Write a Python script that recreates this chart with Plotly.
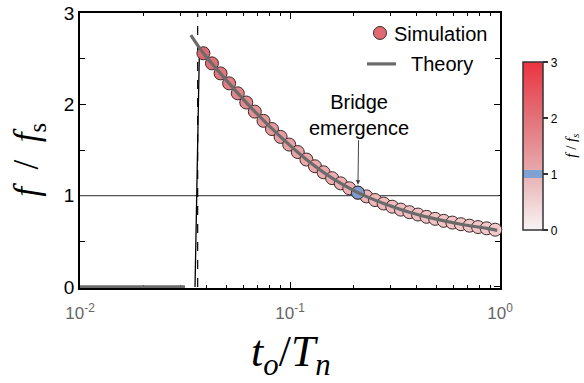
import math
import plotly.graph_objects as go

# ---------------- data ----------------
sim_x = [0.0387, 0.0425, 0.0467, 0.0513, 0.0564, 0.0619, 0.0680, 0.0748, 0.0821, 0.0902,
         0.0991, 0.1089, 0.1197, 0.1315, 0.1445, 0.1587, 0.1744, 0.1916, 0.2105, 0.2313,
         0.2541, 0.2792, 0.3068, 0.3371, 0.3703, 0.4069, 0.4470, 0.4912, 0.5396, 0.5929,
         0.6514, 0.7157, 0.7864, 0.8640, 0.9492]
sim_y = [2.561, 2.450, 2.340, 2.231, 2.122, 2.021, 1.921, 1.820, 1.730, 1.644,
         1.560, 1.478, 1.396, 1.322, 1.256, 1.192, 1.135, 1.081, 1.033, 0.992,
         0.952, 0.914, 0.879, 0.847, 0.819, 0.793, 0.768, 0.746, 0.724, 0.705,
         0.687, 0.671, 0.656, 0.642, 0.627]
bridge_index = 18

theory_x = [0.0337, 0.0387, 0.0513, 0.0680, 0.0902, 0.1197, 0.1587, 0.2105, 0.2792,
            0.3703, 0.4912, 0.6514, 0.8640, 0.9700]
theory_y = [2.76, 2.561, 2.231, 1.921, 1.644, 1.396, 1.192, 1.033, 0.914,
            0.819, 0.746, 0.687, 0.642, 0.620]
theory_zero_x = [0.01, 0.0316]
theory_zero_y = [0, 0]

jump_x = [0.0353, 0.0370]
jump_y = [0, 2.55]

threshold_x = 0.03634
reference_level = 1.0
ref_line_x = [0.01, 0.985]

x_tickvals = [0.01, 0.1, 1]
x_ticktext = ["10<sup>-2</sup>", "10<sup>-1</sup>", "10<sup>0</sup>"]
y_tickvals = [0, 1, 2, 3]
cbar_tickvals = [0, 1, 2, 3]

# ---------------- layout geometry ----------------
W, H = 584, 383
L, R, T, B = 80, 500, 13, 288.5

def px(xp):  # page x pixel -> paper
    return (xp - L) / (R - L)

def py(yp):  # page y pixel -> paper
    return (B - yp) / (B - T)

marker_scale = [[0, '#faf5f5'], [0.2, '#f3c9cb'], [0.35, '#edb2b5'],
                [0.6, '#e6979b'], [0.85, '#e06a72'], [1, '#dc4a55']]
cbar_scale = [[0, '#f8f4f4'], [0.312, '#e9b4b7'], [0.312, '#7fa2d3'], [0.36, '#7fa2d3'],
              [0.36, '#e8a7ab'], [0.667, '#e27279'], [1, '#ec3440']]

fig = go.Figure()

# reference horizontal line
fig.add_trace(go.Scatter(x=ref_line_x, y=[reference_level] * len(ref_line_x), mode='lines',
                         line=dict(color='#555555', width=1.2), showlegend=False, hoverinfo='skip'))
# dashed threshold line
fig.add_trace(go.Scatter(x=[threshold_x, threshold_x], y=[0, 3], mode='lines',
                         line=dict(color='black', width=1.2, dash='dash'), showlegend=False))
# jump line
fig.add_trace(go.Scatter(x=jump_x, y=jump_y, mode='lines',
                         line=dict(color='black', width=1.3), showlegend=False))
# simulation
fig.add_trace(go.Scatter(x=sim_x, y=sim_y, mode='markers', name='Simulation', cliponaxis=False,
                         marker=dict(size=13, color=sim_y, cmin=0, cmax=3, colorscale=marker_scale,
                                     line=dict(color='#3a2a2a', width=1)),
                         showlegend=False))
# bridge emergence point
fig.add_trace(go.Scatter(x=[sim_x[bridge_index]], y=[sim_y[bridge_index]], mode='markers',
                         cliponaxis=False,
                         marker=dict(size=13, color='#7a9ccf', line=dict(color='#3a2a2a', width=1)),
                         showlegend=False))
# theory
fig.add_trace(go.Scatter(x=theory_x, y=theory_y, mode='lines', name='Theory',
                         line=dict(color='#6b6b6b', width=3.2, shape='spline', smoothing=0.8),
                         showlegend=False))
fig.add_trace(go.Scatter(x=theory_zero_x, y=theory_zero_y, mode='lines',
                         line=dict(color='#6b6b6b', width=3.2), showlegend=False))
# colorbar holder
fig.add_trace(go.Scatter(x=[None], y=[None], mode='markers', showlegend=False,
                         marker=dict(color=[0], cmin=0, cmax=3, colorscale=cbar_scale, showscale=True,
                                     colorbar=dict(x=px(523), xanchor='left', xpad=0, ypad=0,
                                                   y=py(146.7), yanchor='middle',
                                                   len=168, lenmode='pixels', thickness=20,
                                                   outlinewidth=1.5, outlinecolor='#333333',
                                                   tickvals=cbar_tickvals, ticks='outside', ticklen=5,
                                                   tickwidth=1.5, tickcolor='#333333',
                                                   tickfont=dict(size=12, color='black',
                                                                 family='Liberation Sans')))))

fig.update_layout(
    width=W, height=H,
    margin=dict(l=L, r=W - R, t=T, b=H - B, autoexpand=False),
    paper_bgcolor='white', plot_bgcolor='white',
    showlegend=False,
    font=dict(family='Liberation Sans, Arial', color='black'),
)
fig.update_xaxes(type='log', range=[-2, 0], tickvals=x_tickvals, ticktext=x_ticktext,
                 ticks='inside', ticklen=6, tickwidth=1.3, tickcolor='black',
                 showline=True, linecolor='black', linewidth=1.5, mirror='allticks',
                 showgrid=False, zeroline=False, layer='below traces', automargin=False,
                 ticklabelstandoff=9, ticklabeloverflow='allow',
                 tickfont=dict(size=17, color='#666666', family='Liberation Sans'),
                 minor=dict(ticks='inside', ticklen=3, tickwidth=1, tickcolor='black',
                            tickvals=[0.02, 0.03, 0.04, 0.05, 0.06, 0.07, 0.08, 0.09,
                                      0.2, 0.3, 0.4, 0.5, 0.6, 0.7, 0.8, 0.9], showgrid=False))
fig.update_yaxes(range=[-0.012, 3.002], tickvals=y_tickvals,
                 ticks='inside', ticklen=6, tickwidth=1.3, tickcolor='black',
                 showline=True, linecolor='black', linewidth=1.5, mirror='allticks',
                 showgrid=False, zeroline=False, layer='below traces', automargin=False,
                 ticklabeloverflow='allow',
                 tickfont=dict(size=19, color='black', family='Liberation Sans'),
                 minor=dict(ticks='inside', ticklen=5, tickwidth=1, tickcolor='black',
                            dtick=0.5, showgrid=False))

serif = 'Liberation Serif, DejaVu Serif, serif'

def ann(text, xp, yp, **kw):
    d = dict(text=text, x=px(xp), y=py(yp), xref='paper', yref='paper', showarrow=False,
             xanchor='center', yanchor='middle')
    d.update(kw)
    return d

annotations = [
    ann('<i>f</i>&nbsp;&nbsp;/&nbsp;&nbsp;<i>f</i><sub>s</sub>', 29, 160, textangle=-90,
        font=dict(family=serif, size=35)),
    ann('<i>t</i><sub><i>o</i></sub>/<i>T</i><sub><i>n</i></sub>', 291, 355,
        font=dict(family=serif, size=44)),
    ann('<i>f</i> / <i>f</i><sub><i>s</i></sub>', 572, 146, textangle=-90,
        font=dict(family=serif, size=15)),
    ann('Simulation', 392, 34, xanchor='left', font=dict(size=20)),
    ann('Theory', 409, 64, xanchor='left', font=dict(size=20)),
    dict(text='Bridge<br>emergence', x=math.log10(sim_x[bridge_index]), y=sim_y[bridge_index],
         xref='x', yref='y', showarrow=True, ax=1, ay=-78, standoff=8, arrowhead=2,
         arrowsize=0.9, arrowwidth=1, arrowcolor='#444444', font=dict(size=20)),
]
fig.update_layout(annotations=annotations)

shapes = [
    dict(type='circle', xref='paper', yref='paper', x0=px(373.5), x1=px(386.5), y0=py(39.5), y1=py(26.5),
         fillcolor='#e06a72', line=dict(color='#3a2a2a', width=1)),
    dict(type='line', xref='paper', yref='paper', x0=px(367), x1=px(396), y0=py(64), y1=py(64),
         line=dict(color='#6b6b6b', width=3.2)),
]
fig.update_layout(shapes=shapes)

# remove the default 8px page margin so the figure fills the window exactly
fig.write_html('out.html', config={'displayModeBar': False},
               post_script="document.body.style.margin='0px';")
